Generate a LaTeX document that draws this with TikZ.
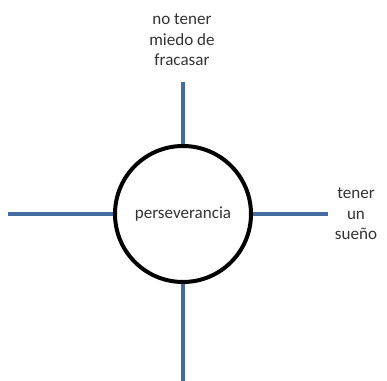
\documentclass[tikz,border=0pt]{standalone}
\usepackage{fontspec}
\setmainfont{Carlito}
\definecolor{linkblue}{RGB}{68,108,160}
\begin{document}
\begin{tikzpicture}[x=0.75pt,y=-0.75pt,
  link/.style={draw=linkblue,line width=3pt},
  label/.style={font=\fontsize{12.8}{15.5}\selectfont,align=center,text=black!80,inner sep=0pt}]
\useasboundingbox (0,0) rectangle (387,381);
\node[circle,draw=black,line width=3pt,minimum size=102pt,inner sep=0pt,
  label] (c) at (183,214) {perseverancia};
\coordinate (t) at (183,82);
\coordinate (l) at (8,214);
\coordinate (r) at (328,214);
\coordinate (b) at (183,381);
\draw[link] (c.north) -- (t);
\draw[link] (c.west) -- (l);
\draw[link] (c.east) -- (r);
\draw[link] (c.south) -- (b);
\node[label] (tt) at (182,40) {no tener\\miedo de\\fracasar};
\node[label] (rt) at (356,214) {tener\\un\\sueño};
\end{tikzpicture}
\end{document}
